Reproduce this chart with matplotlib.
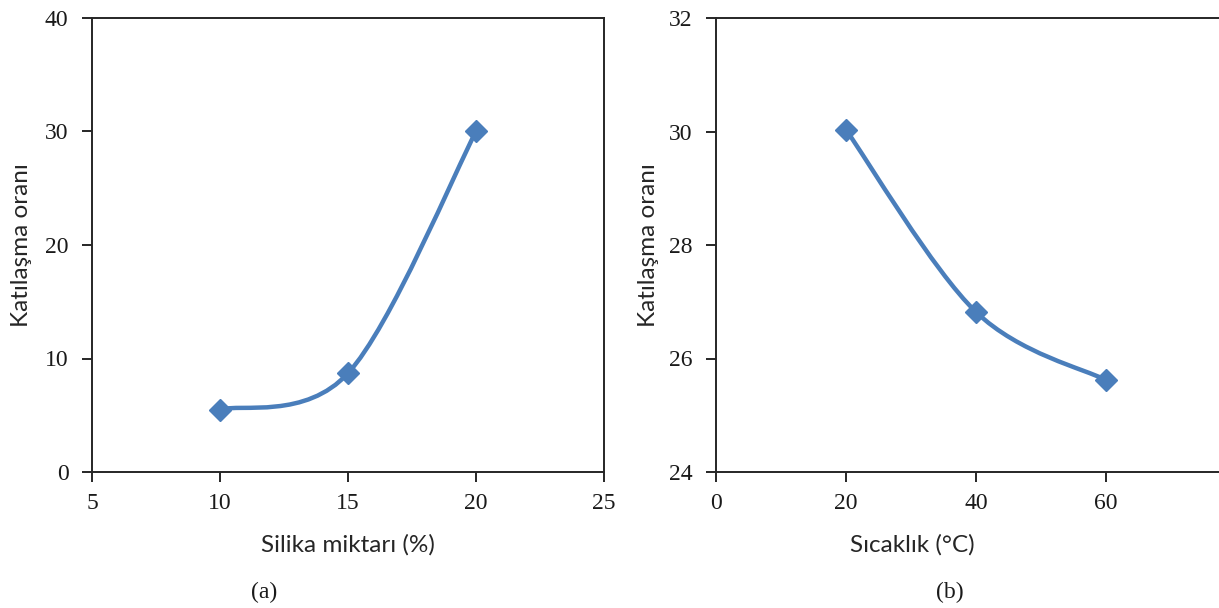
import numpy as np
import matplotlib.pyplot as plt
from matplotlib.path import Path
from matplotlib.patches import PathPatch

# panel (a)
silika = [10, 15, 20]
katilasma_a = [5.5, 8.7, 30.0]
xticks_a = [5, 10, 15, 20, 25]
yticks_a = [0, 10, 20, 30, 40]

# panel (b)
sicaklik = [20, 40, 60]
katilasma_b = [30.03, 26.82, 25.62]
xticks_b = [0, 20, 40, 60]
yticks_b = [24, 26, 28, 30, 32]

lineColor = '#4a7ebb'
spineColor = '#262626'
tickFont = {'family': 'Liberation Serif', 'size': 17, 'color': '#1a1a1a'}
labelFont = {'family': 'Lato', 'size': 17.5, 'color': '#262626'}


def smooth_path(xs, ys):
    # excel style smoothed line: cubic bezier through every point
    pts = np.column_stack([xs, ys]).astype(float)
    ext = np.vstack([pts[0], pts, pts[-1]])
    verts = [pts[0]]
    codes = [Path.MOVETO]
    for i in range(len(pts) - 1):
        p0, p1, p2, p3 = ext[i], ext[i + 1], ext[i + 2], ext[i + 3]
        verts += [p1 + (p2 - p0) / 6, p2 - (p3 - p1) / 6, p2]
        codes += [Path.CURVE4] * 3
    return Path(verts, codes)


def style_axes(ax, xticks, yticks):
    for s in ax.spines.values():
        s.set_color(spineColor)
        s.set_linewidth(1.4)
    ax.set_xticks(xticks)
    ax.set_yticks(yticks)
    ax.tick_params(direction='out', length=7, width=1.4, color=spineColor,
                   top=False, right=False)
    ax.tick_params(axis='x', pad=8)
    ax.tick_params(axis='y', pad=10)
    for t in ax.get_xticklabels() + ax.get_yticklabels():
        t.set_fontfamily(tickFont['family'])
        t.set_fontsize(tickFont['size'])
        t.set_color(tickFont['color'])


fig = plt.figure(figsize=(12.19, 6.08), dpi=100)

axA = fig.add_axes([92 / 1219, 1 - 472 / 608, 512 / 1219, 454 / 608])
axA.add_patch(PathPatch(smooth_path(silika, katilasma_a), fc='none', ec=lineColor,
                        lw=3.2, capstyle='round', joinstyle='round', zorder=3))
axA.plot(silika, katilasma_a, ls='', marker='D', ms=11, color=lineColor, zorder=4)
axA.set_xlim(5, 25)
axA.set_ylim(0, 40)
style_axes(axA, xticks_a, yticks_a)
axA.set_xlabel('Silika miktarı (%)', **labelFont)
axA.set_ylabel('Katılaşma oranı', **labelFont)
axA.xaxis.set_label_coords(0.5, -0.161)
axA.xaxis.label.set_va('center')
axA.yaxis.set_label_coords(-0.137, 0.5)
axA.yaxis.label.set_va('center')

axB = fig.add_axes([716 / 1219, 1 - 472 / 608, 503 / 1219, 454 / 608])
axB.add_patch(PathPatch(smooth_path(sicaklik, katilasma_b), fc='none', ec=lineColor,
                        lw=3.2, capstyle='round', joinstyle='round', zorder=3))
axB.plot(sicaklik, katilasma_b, ls='', marker='D', ms=11, color=lineColor, zorder=4)
axB.set_xlim(0, 503 / 6.5)
axB.set_ylim(24, 32)
style_axes(axB, xticks_b, yticks_b)
axB.spines['right'].set_visible(False)
axB.set_xlabel('Sıcaklık (°C)', **labelFont)
axB.set_ylabel('Katılaşma oranı', **labelFont)
axB.xaxis.set_label_coords((912 - 716) / 503, -0.161)
axB.xaxis.label.set_va('center')
axB.yaxis.set_label_coords(-0.135, 0.5)
axB.yaxis.label.set_va('center')

fig.text(264 / 1219, 1 - 592 / 608, '(a)', ha='center', va='center',
         family='Liberation Serif', size=17, color='#1a1a1a')
fig.text(950 / 1219, 1 - 592 / 608, '(b)', ha='center', va='center',
         family='Liberation Serif', size=17, color='#1a1a1a')

fig.savefig('out.png', dpi=100)
